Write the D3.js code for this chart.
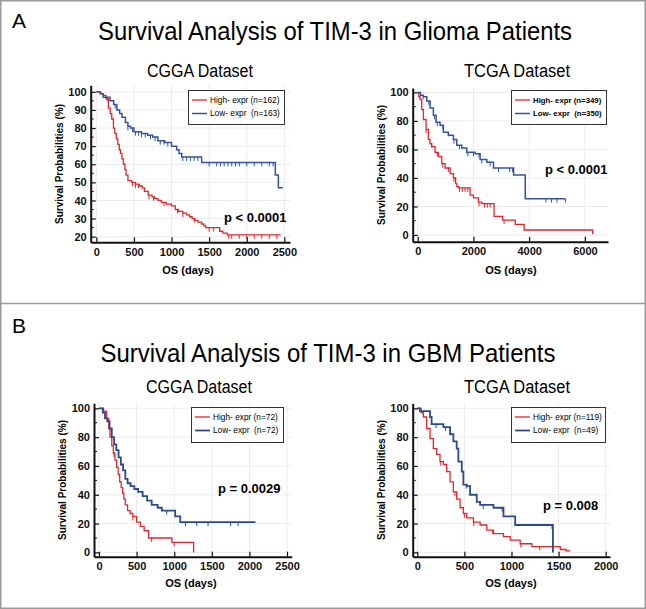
<!DOCTYPE html>
<html><head><meta charset="utf-8">
<script src="https://cdn.jsdelivr.net/npm/d3@7"></script>
<style>body{margin:0;background:#fff}svg{display:block}text{font-family:"Liberation Sans",Arial,sans-serif}</style>
</head><body><svg id="c" width="646" height="609"></svg>
<script>
// ---------------- DATA ----------------
const panelLetters = ["A", "B"];
const mainTitles = ["Survival Analysis of TIM-3 in Glioma Patients", "Survival Analysis of TIM-3 in GBM Patients"];
const datasetTitles = ["CGGA Dataset", "TCGA Dataset", "CGGA Dataset", "TCGA Dataset"];
const seriesNames = ["High- expr", "Low- expr"];
const legendCounts = [["(n=162)", "(n=163)"], ["(n=349)", "(n=350)"], ["(n=72)", "(n=72)"], ["(n=119)", "(n=49)"]];
const pValues = ["p < 0.0001", "p < 0.0001", "p = 0.0029", "p = 0.008"];
const yAxisTitle = "Survival Probabilities (%)";
const xAxisTitle = "OS (days)";

// tick labels
const xTicksCGGA = [0, 500, 1000, 1500, 2000, 2500];
const xTicksTCGAglioma = [0, 2000, 4000, 6000];
const xTicksTCGAgbm = [0, 500, 1000, 1500, 2000];
const yTicksCGGAglioma = [20, 30, 40, 50, 60, 70, 80, 90, 100];
const yTicks0to100 = [0, 20, 40, 60, 80, 100];

// Kaplan-Meier steps: [day, survival %]
const cggaGliomaHigh = [[0,100],[60,99],[90,98],[130,96],[160,91],[185,88],[205,85],[227,80],[245,77],[265,74],[285,71],[305,68],[320,66],[340,63],[360,60],[380,57],[395,54],[420,51],[470,50],[520,49],[570,48],[610,47],[640,45],[690,43],[740,42],[775,41],[820,40],[864,39],[930,38],[1000,37],[1050,35],[1091,34],[1150,33],[1200,32],[1240,31],[1273,30],[1310,29],[1350,28],[1400,27],[1430,26],[1455,25],[1640,23],[1682,22],[1740,21],[2450,21]];
const cggaGliomaLow = [[0,100],[50,99],[91,97],[182,95],[230,93],[273,90],[310,88],[341,86],[386,83],[420,81],[455,80],[500,78],[600,77],[682,76],[750,75],[818,73],[909,72],[1000,70],[1068,68],[1100,66],[1136,64],[1400,61],[2380,54],[2420,47],[2480,47]];
const tcgaGliomaHigh = [[0,100],[40,97],[84,95],[144,88],[204,81],[300,74],[383,67],[440,64],[503,62],[623,58],[743,55],[863,50],[982,47],[1162,43],[1282,40],[1360,36],[1402,34],[1462,33],[1880,28],[2000,26],[2180,23],[2300,22],[2740,13],[3050,10.5],[3500,7.5],[3820,3.5],[6260,3.5],[6280,0.5]];
const tcgaGliomaLow = [[0,100],[100,98],[204,97],[323,94],[443,89],[563,84],[659,79],[803,77],[922,72],[1102,70],[1282,67],[1402,63],[1581,61],[1761,58],[2060,57],[2240,53],[2480,51],[2720,47],[3440,42],[3860,25.5],[5300,25.5]];
const cggaGbmHigh = [[0,100],[60,98],[100,93],[130,86],[147,80],[170,74],[190,69],[212,64],[235,59],[255,54],[275,49],[295,45],[315,41],[330,37],[350,33],[380,29],[413,27],[450,25],[500,21],[550,18],[600,15],[658,10],[969,7],[1258,0]];
const cggaGbmLow = [[0,100],[50,97],[80,93],[110,91],[140,86],[170,80],[200,75],[230,71],[260,66],[290,61],[320,57],[350,51],[380,48],[420,46],[470,44],[520,42],[580,39],[640,36],[700,33],[780,31],[835,29],[1013,25],[1080,21],[2080,21]];
const tcgaGbmHigh = [[0,100],[40,97],[64,94],[99,86],[135,79],[170,72],[206,68],[241,63],[277,61],[312,56],[348,49],[383,42],[418,37],[454,31],[489,27],[525,24],[596,21],[667,19],[738,15.5],[809,13],[915,11],[986,8.5],[1092,6],[1216,4],[1518,2],[1580,1],[1624,1]];
const tcgaGbmLow = [[0,100],[28,98],[135,94],[152,89],[277,87],[348,82],[383,77],[418,72],[436,63],[472,56],[489,47],[525,46],[560,40],[631,35],[667,33],[809,31],[915,25],[1039,19],[1440,0]];

// censored observations (days)
const cggaGliomaHighCens = [480,520,560,700,760,900,1080,1150,1300,1500,1560,1760,1800,1900,2000,2100,2200,2300,2400];
const cggaGliomaLowCens = [150,250,420,480,520,560,600,650,720,780,850,900,950,1150,1200,1250,1300,1350,1500,1600,1650,1700,1750,1800,1850,1900,2000,2100,2200,2300,2350];
const tcgaGliomaHighCens = [300,500,700,900,1100,1300,1500,1600,1700,1800,2200,2400,2500,2600,3100];
const tcgaGliomaLowCens = [200,400,600,700,900,1100,1300,1500,1800,2000,2200,2300,2600,2900,3300,3400,4600,4800,5000,5300];
const cggaGbmHighCens = [200,450,700,1000];
const cggaGbmLowCens = [900,1150,1300,1450,1750,1850];
const tcgaGbmHighCens = [250,400,500,600,800,1100,1300];
const tcgaGbmLowCens = [200,300,520,700,900,1430];

// ---------------- LAYOUT / STYLE ----------------
const RED = "#e2262c", BLUE = "#34539f", NAVY = "#2b4a8b";
const svg = d3.select("#c");

// frame
svg.append("rect").attr("x",0.75).attr("y",0.75).attr("width",644.5).attr("height",607.5)
  .attr("fill","none").attr("stroke","#9a9a9a").attr("stroke-width",1.5);
svg.append("line").attr("x1",0).attr("x2",646).attr("y1",303.5).attr("y2",303.5)
  .attr("stroke","#9a9a9a").attr("stroke-width",1.5);

// letters & titles
[[12,28],[12,333]].forEach((p,i)=>{
  svg.append("text").attr("x",p[0]).attr("y",p[1]).attr("font-size",21).text(panelLetters[i]);
});
[[335,40,474],[328,362,455]].forEach((p,i)=>{
  svg.append("text").attr("x",p[0]).attr("y",p[1]).attr("text-anchor","middle")
    .attr("font-size",25).attr("textLength",p[2]).attr("lengthAdjust","spacingAndGlyphs").text(mainTitles[i]);
});

const panels = [
  {xd:[-75,2575], xr:[90.7,290], yd:[16.9,103.6], yr:[242.3,85.3], xt:xTicksCGGA, yt:yTicksCGGAglioma, ymin:5,
   title:[200,77], leg:[188,90,96,34], p:[224,222], yl:[59,164], xl:[188,274], lw:[1.3,1.5], blue:BLUE, legBold:false,
   curves:[[cggaGliomaHigh,cggaGliomaHighCens],[cggaGliomaLow,cggaGliomaLowCens]]},
  {xd:[-180,6830], xr:[412.7,608], yd:[-4.7,103.1], yr:[241.7,88], xt:xTicksTCGAglioma, yt:yTicks0to100, ymin:10,
   title:[517,77], leg:[511,90,95,34], p:[545,174], yl:[381,165], xl:[511,274], lw:[1.3,1.5], blue:BLUE, legBold:true,
   curves:[[tcgaGliomaHigh,tcgaGliomaHighCens],[tcgaGliomaLow,tcgaGliomaLowCens]]},
  {xd:[-66.5,2562], xr:[94,291.7], yd:[-3,103.5], yr:[556.7,403.3], xt:xTicksCGGA, yt:yTicks0to100, ymin:10,
   title:[199,393], leg:[191,407,92,35], p:[218,493], yl:[62,480], xl:[191,587], lw:[1.3,1.8], blue:NAVY, legBold:false,
   curves:[[cggaGbmHigh,cggaGbmHighCens],[cggaGbmLow,cggaGbmLowCens]]},
  {xd:[-49,2046], xr:[412.7,610], yd:[-3,103.5], yr:[556.7,403.3], xt:xTicksTCGAgbm, yt:yTicks0to100, ymin:10,
   title:[517,393], leg:[511,407,94,35], p:[543,510], yl:[381,480], xl:[511,587], lw:[1.3,1.8], blue:NAVY, legBold:false,
   curves:[[tcgaGbmHigh,tcgaGbmHighCens],[tcgaGbmLow,tcgaGbmLowCens]]}
];

panels.forEach((c,pi)=>{
  const X = d3.scaleLinear().domain(c.xd).range(c.xr);
  const Y = d3.scaleLinear().domain(c.yd).range(c.yr);
  const g = svg.append("g");

  // subtitle
  g.append("text").attr("x",c.title[0]).attr("y",c.title[1]).attr("text-anchor","middle")
    .attr("font-size",18).attr("textLength",106).attr("lengthAdjust","spacingAndGlyphs").text(datasetTitles[pi]);

  // grid
  g.append("g").selectAll("line").data(c.xt).join("line")
    .attr("x1",d=>X(d)).attr("x2",d=>X(d)).attr("y1",c.yr[0]).attr("y2",c.yr[1])
    .attr("stroke","#ececec").attr("stroke-width",1);
  g.append("g").selectAll("line").data(c.yt).join("line")
    .attr("x1",c.xr[0]).attr("x2",c.xr[1]).attr("y1",d=>Y(d)).attr("y2",d=>Y(d))
    .attr("stroke","#ececec").attr("stroke-width",1);

  // curves
  const line = d3.line().x(d=>X(d[0])).y(d=>Y(d[1])).curve(d3.curveStepAfter);
  c.curves.forEach((cv,si)=>{
    const col = si===0 ? RED : c.blue;
    const pts = cv[0];
    g.append("path").attr("d",line(pts)).attr("fill","none").attr("stroke",col).attr("stroke-width",c.lw[si]);
    const surv = t => { let v = pts[0][1]; for (const p of pts) { if (p[0] <= t) v = p[1]; } return v; };
    g.append("g").selectAll("line").data(cv[1]).join("line")
      .attr("x1",d=>X(d)).attr("x2",d=>X(d)).attr("y1",d=>Y(surv(d))).attr("y2",d=>Y(surv(d))+4)
      .attr("stroke",col).attr("stroke-width",1);
  });

  // minor y ticks
  const ymin = d3.range(c.yt[0], c.yt[c.yt.length-1], c.ymin).filter(v=>!c.yt.includes(v));
  g.append("g").selectAll("line").data(ymin).join("line")
    .attr("x1",c.xr[0]).attr("x2",c.xr[0]+3).attr("y1",d=>Y(d)).attr("y2",d=>Y(d))
    .attr("stroke","#000").attr("stroke-width",1);

  // axes
  const ax = g.append("g").attr("transform",`translate(0,${c.yr[0]})`)
    .call(d3.axisBottom(X).tickValues(c.xt).tickSize(-5).tickSizeOuter(0).tickPadding(6).tickFormat(d3.format("d")));
  const ay = g.append("g").attr("transform",`translate(${c.xr[0]},0)`)
    .call(d3.axisLeft(Y).tickValues(c.yt).tickSize(-5).tickSizeOuter(0).tickPadding(4).tickFormat(d3.format("d")));
  [ax,ay].forEach(a=>{
    a.select(".domain").attr("stroke","#111").attr("stroke-width",2);
    a.selectAll(".tick line").attr("stroke","#111").attr("stroke-width",1.2);
    a.selectAll(".tick text").attr("font-family","Liberation Sans, Arial, sans-serif")
      .attr("font-weight","bold").attr("font-size",11).attr("fill","#111");
  });

  // axis titles
  g.append("text").attr("transform",`translate(${c.yl[0]},${c.yl[1]}) rotate(-90)`).attr("text-anchor","middle")
    .attr("dy","0.35em").attr("font-size",10.5).attr("font-weight","bold").attr("textLength",120)
    .attr("lengthAdjust","spacingAndGlyphs").text(yAxisTitle);
  g.append("text").attr("x",c.xl[0]).attr("y",c.xl[1]).attr("text-anchor","middle")
    .attr("font-size",11).attr("font-weight","bold").text(xAxisTitle);

  // legend
  const L = c.leg;
  g.append("rect").attr("x",L[0]+0.5).attr("y",L[1]+0.5).attr("width",L[2]).attr("height",L[3])
    .attr("fill","#fff").attr("stroke","#333").attr("stroke-width",1);
  seriesNames.forEach((s,si)=>{
    const yy = L[1] + 10 + si*13.5;
    const col = si===0 ? RED : c.blue;
    g.append("line").attr("x1",L[0]+4).attr("x2",L[0]+19).attr("y1",yy).attr("y2",yy)
      .attr("stroke",col).attr("stroke-width",c.lw[si]);
    g.append("text").attr("x",L[0]+22).attr("y",yy).attr("dy","0.35em").attr("font-size",c.legBold?7.8:8.3)
      .attr("font-weight",c.legBold?"bold":"normal")
      .style("white-space","pre").text(s + (si===1 ? "  " : " ") + legendCounts[pi][si]);
  });

  // p-value
  g.append("text").attr("x",c.p[0]).attr("y",c.p[1]).attr("font-size",13).attr("font-weight","bold").text(pValues[pi]);
});
</script></body></html>
